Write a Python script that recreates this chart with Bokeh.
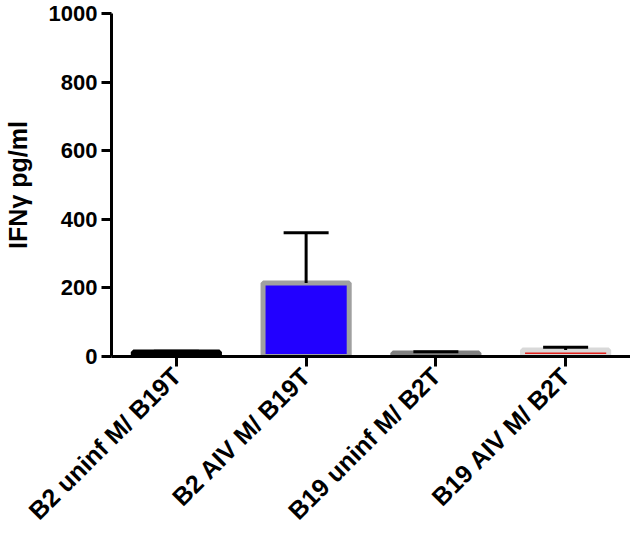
from bokeh.plotting import figure
from bokeh.models import Range1d, FactorRange, ColumnDataSource, Whisker, TeeHead
from bokeh.embed import file_html
from bokeh.resources import INLINE
import math

categories = ["B2 uninf M/ B19T", "B2 AIV M/ B19T", "B19 uninf M/ B2T", "B19 AIV M/ B2T"]
values = [13, 214, 10, 19]
upper = [15, 361, 14, 27]
fill_colors = ["#000000", "#2200FF", "#808080", "#E0201B"]
line_colors = ["#000000", "#A0A0A0", "#808080", "#D9D9D9"]
y_ticks = [0, 200, 400, 600, 800, 1000]

src = ColumnDataSource(dict(cat=categories, val=values, up=upper,
                            fc=fill_colors, lc=line_colors))

p = figure(width=630, height=537, output_backend="svg", toolbar_location=None,
           x_range=FactorRange(*categories, range_padding=0),
           y_range=Range1d(0, 1000),
           min_border_left=110, min_border_top=13, min_border_bottom=181, min_border_right=0)

p.vbar(x="cat", top="val", bottom=0, width=0.664, source=src,
       fill_color="fc", line_color="lc", line_width=5)

w = Whisker(base="cat", lower="val", upper="up", source=src, dimension="height",
            line_color="black", line_width=3, level="annotation",
            upper_head=TeeHead(size=45, line_width=3, line_color="black"),
            lower_head=None)
p.add_layout(w)

p.outline_line_color = None
p.xgrid.grid_line_color = None
p.ygrid.grid_line_color = None
p.background_fill_color = "white"

for ax in (p.xaxis[0], p.yaxis[0]):
    ax.axis_line_width = 3
    ax.axis_line_color = "black"
    ax.major_tick_line_width = 3
    ax.major_tick_out = 10
    ax.major_tick_in = 0
    ax.minor_tick_line_color = None
    ax.major_label_text_font = "Liberation Sans"
    ax.major_label_text_font_style = "bold"
    ax.major_label_text_color = "black"
    ax.major_label_text_font_size = "22px"

p.yaxis.ticker = y_ticks
p.yaxis.major_label_standoff = 4
p.yaxis.axis_label = "IFNγ pg/ml"
p.yaxis.axis_label_text_font = "Liberation Sans"
p.yaxis.axis_label_text_font_style = "bold"
p.yaxis.axis_label_text_font_size = "25px"
p.yaxis.axis_label_text_color = "black"
p.yaxis.axis_label_standoff = 14

p.xaxis.major_label_orientation = math.pi / 4
p.xaxis.major_label_standoff = 5
p.xaxis.major_label_text_font_size = "25px"

open("out.html", "w").write(file_html(p, INLINE))
